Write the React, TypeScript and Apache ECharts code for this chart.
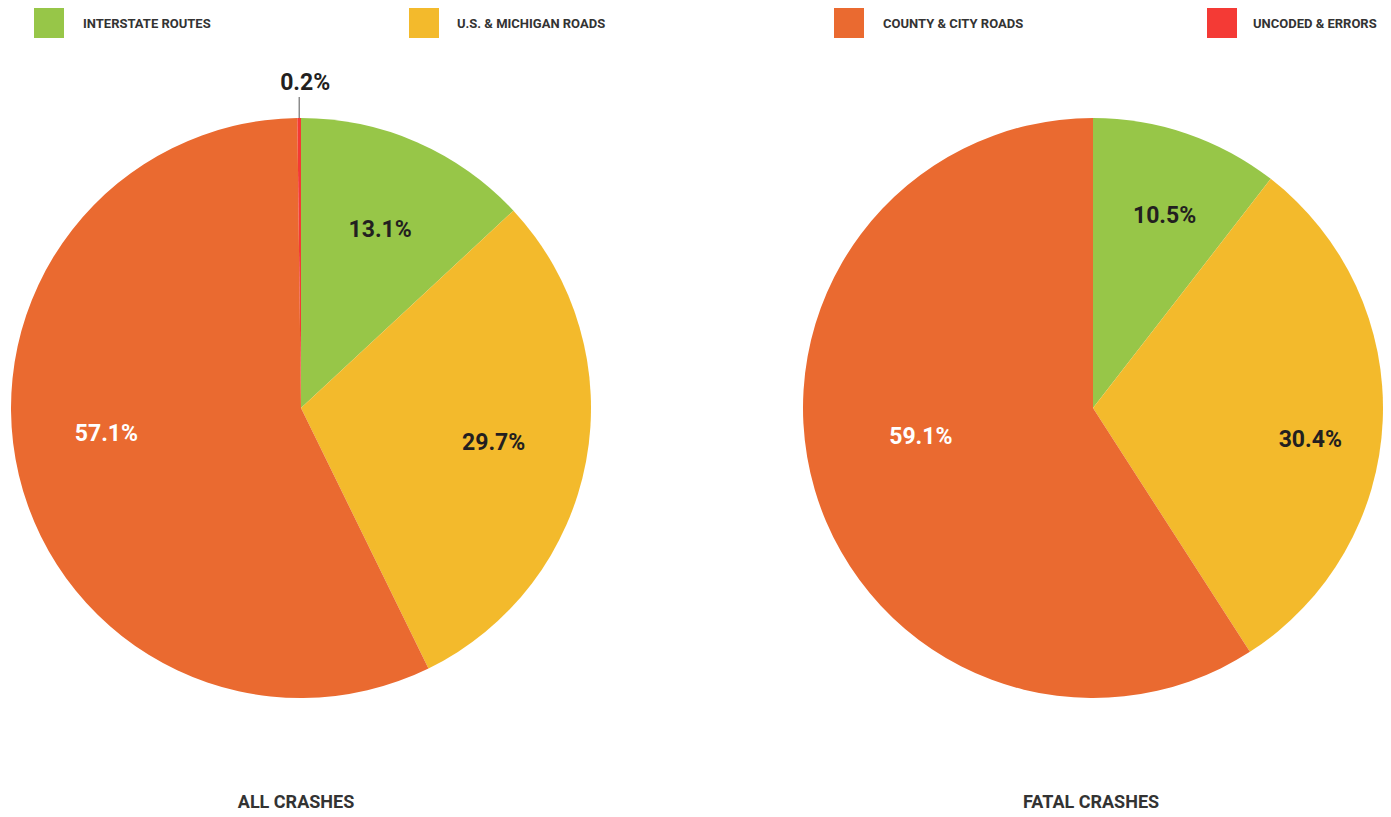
import React, { useEffect, useRef } from "react";
import * as echarts from "echarts";

const categories = ["INTERSTATE ROUTES", "U.S. & MICHIGAN ROADS", "COUNTY & CITY ROADS", "UNCODED & ERRORS"];
const allCrashes = [13.1, 29.7, 57.1, 0.2];
const fatalCrashes = [10.5, 30.4, 59.1];
const chartTitles = ["ALL CRASHES", "FATAL CRASHES"];
const sliceColors = ["#97C648", "#F3BA2C", "#EA6A30", "#F43A35"];
const labelColors = ["#231f20", "#231f20", "#ffffff", "#231f20"];

// small label nudges (layout only)
const labelNudges = [
  [[0, 3], [-2, -2], [-2, -20], [0, 0]],
  [[5, 2], [12, 22], [25, -29]],
];

const FONT = "Roboto, 'Liberation Sans Narrow', sans-serif";

export default function App() {
  const ref = useRef<HTMLDivElement>(null);
  useEffect(() => {
    if (!ref.current) return;
    const chart = echarts.init(ref.current, null, { renderer: "svg" });

    const mainData = (vals: number[]) =>
      vals.map((v, i) => ({ name: categories[i], value: v, itemStyle: { color: sliceColors[i] } }));
    const labelData = (vals: number[]) =>
      vals.map((v, i) => ({
        name: categories[i],
        value: v,
        label: {
          color: labelColors[i],
          position: i === 3 ? "outside" : "inside",
        },
        labelLine:
          i === 3
            ? { show: true, length: 21, length2: 0, lineStyle: { color: "#555", width: 1 } }
            : { show: false },
      }));

    const centers = [[301, 408], [1093, 408]];
    const R = 290;
    const legendPos = [
      { left: 34, pad: [0, 0, 0, 14] },
      { left: 409, pad: [0, 0, 0, 13] },
      { left: 834, pad: [0, 0, 0, 14] },
      { left: 1207, pad: [5, 0, 0, 11] },
    ];

    const labelSeries = (vals: number[], idx: number, inner: number) => ({
      type: "pie",
      center: centers[idx],
      radius: [inner, R],
      startAngle: 90,
      clockwise: true,
      silent: true,
      avoidLabelOverlap: false,
      itemStyle: { color: "rgba(0,0,0,0)" },
      label: {
        show: true,
        formatter: "{c}%",
        fontFamily: FONT,
        fontWeight: "bold",
        fontSize: 23,
      },
      labelLayout: (p: any) => {
        if (p.dataIndex === 3 && p.labelLinePoints) {
          const pts = p.labelLinePoints;
          const s = pts[0];
          const e = [s[0], s[1] - 21];
          return {
            x: e[0] + 6,
            y: e[1] - 3,
            align: "center",
            verticalAlign: "bottom",
            labelLinePoints: [s, e, e],
          };
        }
        const n = labelNudges[idx][p.dataIndex];
        return n ? { dx: n[0], dy: n[1] } : {};
      },
      data: labelData(vals),
      z: 5,
    });

    chart.setOption({
      animation: false,
      backgroundColor: "#ffffff",
      title: chartTitles.map((t, i) => ({
        text: t,
        left: i === 0 ? 296 : 1091,
        top: 792,
        padding: 0,
        textAlign: "center",
        textStyle: { fontFamily: FONT, fontWeight: "bold", fontSize: 18, color: "#333333" },
      })),
      legend: categories.map((c, i) => ({
        data: [c],
        left: legendPos[i].left,
        top: 8,
        padding: 0,
        itemWidth: 30,
        itemHeight: 30,
        icon: "rect",
        selectedMode: false,
        textStyle: {
          fontFamily: FONT,
          fontWeight: "bold",
          fontSize: 13,
          color: "#333333",
          padding: legendPos[i].pad,
        },
      })),
      series: [
        {
          type: "pie",
          center: centers[0],
          radius: [0, R],
          startAngle: 90,
          silent: true,
          label: { show: false },
          labelLine: { show: false },
          data: mainData(allCrashes),
        },
        {
          type: "pie",
          center: centers[1],
          radius: [0, R],
          startAngle: 90,
          silent: true,
          label: { show: false },
          labelLine: { show: false },
          data: mainData(fatalCrashes),
        },
        labelSeries(allCrashes, 0, 100),
        labelSeries(fatalCrashes, 1, 115),
      ],
    });
    return () => chart.dispose();
  }, []);
  return <div ref={ref} style={{ position: "fixed", left: 0, top: 0, width: 1391, height: 817 }} />;
}
